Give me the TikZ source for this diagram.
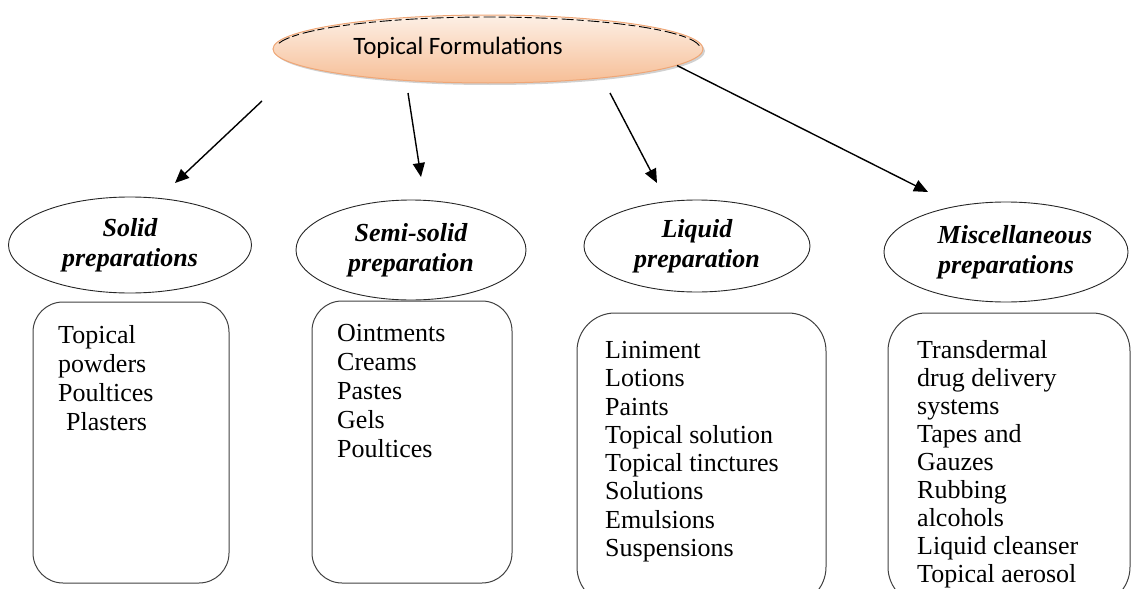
\documentclass[tikz,border=0pt]{standalone}
\usepackage{fontspec}
\setmainfont{Liberation Serif}
\newfontfamily\calibrifont{Carlito}
\usetikzlibrary{shapes.geometric,arrows.meta,positioning}

\definecolor{peachtop}{HTML}{FDF0E6}
\definecolor{peachbot}{HTML}{F6BE96}
\definecolor{peachline}{HTML}{EFA676}

\begin{document}
\begin{tikzpicture}[x=1pt,y=-1pt,
	catell/.style={ellipse,draw=black!85,line width=0.9pt,inner sep=0pt,align=center,
		font=\fontsize{26}{30}\selectfont\bfseries\itshape},
	listbox/.style={rectangle,draw=black!75,line width=1pt,rounded corners=#1},
	listbox/.default=30pt,
	listtext/.style={anchor=north west,align=left,inner sep=0pt,
		font=\fontsize{26}{#1}\selectfont},
	listtext/.default=29pt,
	arr/.style={-{Triangle[length=14pt,width=12pt]},line width=1.4pt}]
	\clip (0,0) rectangle (1136,589);
	\useasboundingbox (0,0) rectangle (1136,589);

	% top node
	\node[ellipse,fill=black!18,minimum width=430pt,minimum height=68pt] (topshadow) at (490,51) {};
	\node[ellipse,draw=peachline,line width=1pt,top color=peachtop,bottom color=peachbot,
		minimum width=430pt,minimum height=68pt] (topf) at (488,49) {};
	\draw[black,line width=0.9pt,dash pattern=on 12pt off 4pt on 7pt off 3pt]
		plot[domain=6:174,samples=60] ({488+212.5*cos(\x)},{49-32*sin(\x)});
	\node[font=\calibrifont\fontsize{25}{30}\selectfont] (toptxt) at (458,48) {Topical Formulations};

	% categories
	\node[catell,minimum width=243pt,minimum height=96pt] (solid) at (130,245) {Solid\\preparations};
	\node[catell,minimum width=230pt,minimum height=100pt] (semisolid) at (411,250) {Semi-solid\\preparation};
	\node[catell,minimum width=226pt,minimum height=92pt] (liquid) at (697,246) {Liquid\\preparation};
	\node[catell,minimum width=242pt,minimum height=100pt] (misc) at (1006,252) {\hspace*{18pt}Miscellaneous\\preparations};

	% arrows
	\coordinate (a1s) at (262,101);
	\coordinate (a1e) at (175,183);
	\coordinate (a2s) at (408,93);
	\coordinate (a2e) at (421,177);
	\coordinate (a3s) at (610,93);
	\coordinate (a3e) at (657,183);
	\coordinate (a4e) at (928,192);
	\draw[arr] (a1s) -- (a1e);
	\draw[arr] (a2s) -- (a2e);
	\draw[arr] (a3s) -- (a3e);
	\draw[arr] (topf.-5) -- (a4e);

	% lists
	\node[listbox,minimum width=196pt,minimum height=281pt] (solidbox) at (131,442.5) {};
	\node[listbox,minimum width=200pt,minimum height=282pt] (semibox) at (412,442) {};
	\node[listbox=38pt,minimum width=249pt,minimum height=292pt] (liquidbox) at (701.5,459) {};
	\node[listbox=38pt,minimum width=242pt,minimum height=292pt] (miscbox) at (1009,459) {};

	\node[listtext] (solidlist) at (58,325) {Topical\\powders\\Poultices\\\hspace*{8pt}Plasters};
	\node[listtext] (semilist) at (337,324) {Ointments\\Creams\\Pastes\\Gels\\Poultices};
	\node[listtext=28.3pt] (liquidlist) at (605,341) {Liniment\\Lotions\\Paints\\Topical solution\\Topical tinctures\\Solutions\\Emulsions\\Suspensions};
	\node[listtext=28pt] (misclist) at (917,340) {Transdermal\\drug delivery\\systems\\Tapes and\\Gauzes\\Rubbing\\alcohols\\Liquid cleanser\\Topical aerosol};
\end{tikzpicture}
\end{document}
